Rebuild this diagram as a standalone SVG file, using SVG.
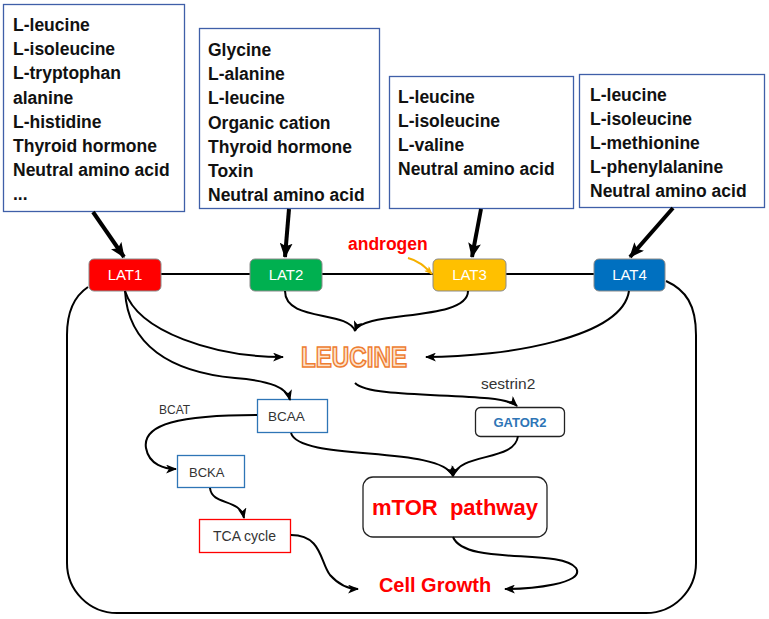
<svg xmlns="http://www.w3.org/2000/svg" width="769" height="619" viewBox="0 0 769 619">
<style>
.lst{font-family:"Liberation Sans",Arial,sans-serif;font-weight:bold;font-size:17.5px;fill:#111}
.box{fill:#fff;stroke:#3f5fa8;stroke-width:1.3}
.lat{stroke:#8a8a8a;stroke-width:1}
.latt{font-family:"Liberation Sans",Arial,sans-serif;font-size:15px;fill:#fff;text-anchor:middle}
.sm{font-family:"Liberation Sans",Arial,sans-serif;fill:#333}
.c{fill:none;stroke:#000;stroke-width:2}
.thick{fill:none;stroke:#000;stroke-width:4}
.red{font-family:"Liberation Sans",Arial,sans-serif;font-weight:bold;fill:#ff0000}
</style>
<defs>
<marker id="ah" viewBox="0 0 10 8" refX="9" refY="4" markerWidth="11" markerHeight="9" markerUnits="userSpaceOnUse" orient="auto">
<path d="M0,0 L10,4 L0,8 L2.5,4 z" fill="#000"/>
</marker>
<marker id="ahy" viewBox="0 0 10 8" refX="9" refY="4" markerWidth="9" markerHeight="7" markerUnits="userSpaceOnUse" orient="auto">
<path d="M0,0 L10,4 L0,8 L2.5,4 z" fill="#f5b000"/>
</marker>
<marker id="ahb" viewBox="0 0 14 12" refX="13" refY="6" markerWidth="15" markerHeight="13" markerUnits="userSpaceOnUse" orient="auto">
<path d="M0,0 L14,6 L0,12 L3,6 z" fill="#000"/>
</marker>
</defs>

<g id="frame">
<path class="c" d="M88,287 C73,297 67,315 67,335 L67,563 A50,50 0 0 0 117,613 L646,613 A50,50 0 0 0 696,563 L696,335 C696,305 686,290 666,281"/>
<path class="c" d="M161,274 L250,274 M322,274 L433,274 M506,274 L594,274"/>
</g>

<g id="box1">
<rect class="box" x="3.5" y="4.5" width="181" height="207"/>
<text class="lst" x="13" y="31">L-leucine</text>
<text class="lst" x="13" y="55">L-isoleucine</text>
<text class="lst" x="13" y="79">L-tryptophan</text>
<text class="lst" x="13" y="104">alanine</text>
<text class="lst" x="13" y="128">L-histidine</text>
<text class="lst" x="13" y="152">Thyroid hormone</text>
<text class="lst" x="13" y="176">Neutral amino acid</text>
<text class="lst" x="13" y="200">...</text>
</g>
<g id="box2">
<rect class="box" x="199.5" y="28.5" width="180" height="180"/>
<text class="lst" x="208" y="56">Glycine</text>
<text class="lst" x="208" y="80">L-alanine</text>
<text class="lst" x="208" y="104">L-leucine</text>
<text class="lst" x="208" y="129">Organic cation</text>
<text class="lst" x="208" y="153">Thyroid hormone</text>
<text class="lst" x="208" y="177">Toxin</text>
<text class="lst" x="208" y="201">Neutral amino acid</text>
</g>
<g id="box3">
<rect class="box" x="389.5" y="76.5" width="184" height="132"/>
<text class="lst" x="398" y="103">L-leucine</text>
<text class="lst" x="398" y="127">L-isoleucine</text>
<text class="lst" x="398" y="151">L-valine</text>
<text class="lst" x="398" y="175">Neutral amino acid</text>
</g>
<g id="box4">
<rect class="box" x="579.5" y="74.5" width="185" height="133"/>
<text class="lst" x="590" y="101">L-leucine</text>
<text class="lst" x="590" y="125">L-isoleucine</text>
<text class="lst" x="590" y="149">L-methionine</text>
<text class="lst" x="590" y="173">L-phenylalanine</text>
<text class="lst" x="590" y="197">Neutral amino acid</text>
</g>

<g id="LAT1"><rect class="lat" x="89" y="259" width="72" height="32" rx="5" fill="#ff0000"/><text class="latt" x="125" y="280">LAT1</text></g>
<g id="LAT2"><rect class="lat" x="250" y="259" width="72" height="32" rx="5" fill="#00b050"/><text class="latt" x="286" y="280">LAT2</text></g>
<g id="LAT3"><rect class="lat" x="433" y="259" width="73" height="32" rx="5" fill="#ffc000"/><text class="latt" x="469.5" y="280">LAT3</text></g>
<g id="LAT4"><rect class="lat" x="594" y="259" width="71" height="32" rx="5" fill="#0070c0"/><text class="latt" x="629.5" y="280">LAT4</text></g>

<g id="androgen"><text class="red" x="348" y="250" font-size="17.5">androgen</text></g>

<g id="LEUCINE"><text x="354" y="367" text-anchor="middle" font-family="'Liberation Sans',Arial,sans-serif" font-weight="bold" font-size="29" textLength="106" lengthAdjust="spacingAndGlyphs" fill="#fde3cc" stroke="#ee7d31" stroke-width="1.6">LEUCINE</text></g>

<g id="sestrin2"><text class="sm" x="481" y="389" style="font-size:15.5px">sestrin2</text></g>
<g id="BCAT"><text class="sm" x="159" y="414" style="font-size:12px">BCAT</text></g>

<g id="BCAA"><rect x="257.5" y="399.5" width="70" height="33" fill="#fff" stroke="#2e75b6" stroke-width="1.3"/><text class="sm" x="268" y="421" style="font-size:13.5px">BCAA</text></g>
<g id="GATOR2"><rect x="475.5" y="407.5" width="89" height="29" rx="5" fill="#fff" stroke="#222" stroke-width="1.3"/><text x="520" y="427" text-anchor="middle" font-family="'Liberation Sans',Arial,sans-serif" font-size="13" font-weight="bold" fill="#2e75b6">GATOR2</text></g>
<g id="BCKA"><rect x="177.5" y="455.5" width="67" height="32" fill="#fff" stroke="#2e75b6" stroke-width="1.3"/><text class="sm" x="189" y="477" style="font-size:13px">BCKA</text></g>
<g id="TCA"><rect x="199.5" y="519.5" width="91" height="33" fill="#fff" stroke="#ff0000" stroke-width="1.3"/><text class="sm" x="213" y="541" style="font-size:14px">TCA cycle</text></g>
<g id="mTOR"><rect x="363" y="477" width="184" height="60" rx="10" fill="#fff" stroke="#222" stroke-width="1.3"/><text class="red" x="455" y="515" font-size="22" text-anchor="middle" xml:space="preserve">mTOR  pathway</text></g>
<g id="CellGrowth"><text class="red" x="435" y="592" font-size="20" text-anchor="middle">Cell Growth</text></g>

<g id="connectors">
<path class="thick" d="M93,212 L124,257" marker-end="url(#ahb)"/>
<path class="thick" d="M289,209 L285,257" marker-end="url(#ahb)"/>
<path class="thick" d="M481,209 L472,257" marker-end="url(#ahb)"/>
<path class="thick" d="M673,208 L630,257" marker-end="url(#ahb)"/>
<path d="M408,258 C420,261 426,268 432,274" fill="none" stroke="#f5b000" stroke-width="2" marker-end="url(#ahy)"/>
<path class="c" d="M285,291 C285,322 348,310 355,331"/>
<path class="c" d="M468,291 C468,322 362,310 355,331" marker-end="url(#ah)"/>
<path class="c" d="M125,291 C138,332 215,357 283,357" marker-end="url(#ah)"/>
<path class="c" d="M125,291 C128,345 170,372 235,378 C272,381 287,388 290,400" marker-end="url(#ah)"/>
<path class="c" d="M629,291 C622,338 505,357 426,357" marker-end="url(#ah)"/>
<path class="c" d="M355,383 C372,401 500,390 517,406" marker-end="url(#ah)"/>
<path class="c" d="M257,415 C180,415 142,424 146,448 C149,465 165,469 176,469" marker-end="url(#ah)"/>
<path class="c" d="M210,488 C212,506 240,498 244,518" marker-end="url(#ah)"/>
<path class="c" d="M291,535 C322,535 320,562 330,575 C339,585 349,589 358,589" marker-end="url(#ah)"/>
<path class="c" d="M291,433 C300,462 440,445 453,476" marker-end="url(#ah)"/>
<path class="c" d="M518,436 C515,462 460,452 453,476" marker-end="url(#ah)"/>
<path class="c" d="M453,537 C465,566 560,548 576,568 C586,584 530,589 505,589" marker-end="url(#ah)"/>
</g>
</svg>
